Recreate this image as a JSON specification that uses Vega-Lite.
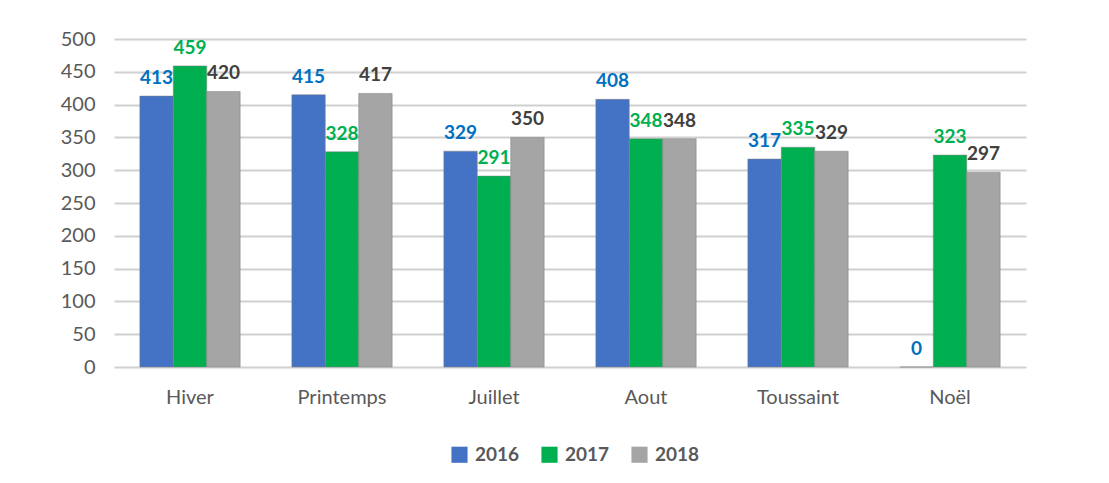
{
  "$schema": "https://vega.github.io/schema/vega-lite/v6.json",
  "autosize": {"type": "none"},
  "width": 912,
  "height": 328,
  "padding": {"left": 114, "top": 39, "right": 83, "bottom": 116},
  "background": "white",
  "data": {
    "values": [
      {"periode": "Hiver", "annee": "2016", "valeur": 413},
      {"periode": "Hiver", "annee": "2017", "valeur": 459},
      {"periode": "Hiver", "annee": "2018", "valeur": 420},
      {"periode": "Printemps", "annee": "2016", "valeur": 415},
      {"periode": "Printemps", "annee": "2017", "valeur": 328},
      {"periode": "Printemps", "annee": "2018", "valeur": 417},
      {"periode": "Juillet", "annee": "2016", "valeur": 329},
      {"periode": "Juillet", "annee": "2017", "valeur": 291},
      {"periode": "Juillet", "annee": "2018", "valeur": 350},
      {"periode": "Aout", "annee": "2016", "valeur": 408},
      {"periode": "Aout", "annee": "2017", "valeur": 348},
      {"periode": "Aout", "annee": "2018", "valeur": 348},
      {"periode": "Toussaint", "annee": "2016", "valeur": 317},
      {"periode": "Toussaint", "annee": "2017", "valeur": 335},
      {"periode": "Toussaint", "annee": "2018", "valeur": 329},
      {"periode": "Noël", "annee": "2016", "valeur": 0},
      {"periode": "Noël", "annee": "2017", "valeur": 323},
      {"periode": "Noël", "annee": "2018", "valeur": 297}
    ]
  },
  "encoding": {
    "x": {
      "field": "periode",
      "type": "nominal",
      "sort": null,
      "scale": {"paddingInner": 0.34, "paddingOuter": 0.17},
      "axis": {
        "title": null,
        "labelAngle": 0,
        "domain": false,
        "ticks": false,
        "labelPadding": 20,
        "labelFontSize": 20,
        "labelColor": "#595959",
        "labelFont": "Lato"
      }
    },
    "xOffset": {"field": "annee", "type": "nominal", "sort": ["2016", "2017", "2018"]},
    "y": {
      "field": "valeur",
      "type": "quantitative",
      "scale": {"domain": [0, 500]},
      "axis": {
        "title": null,
        "values": [0, 50, 100, 150, 200, 250, 300, 350, 400, 450, 500],
        "domain": false,
        "ticks": false,
        "labelPadding": 19,
        "labelFontSize": 20,
        "labelColor": "#595959",
        "labelFont": "Lato",
        "gridColor": "#d0d0d0",
        "gridWidth": 2
      }
    }
  },
  "layer": [
    {
      "mark": {"type": "bar", "stroke": "#7f7f7f", "strokeWidth": 0.5},
      "encoding": {
        "color": {
          "field": "annee",
          "type": "nominal",
          "scale": {"domain": ["2016", "2017", "2018"], "range": ["#4472C4", "#00B050", "#A5A5A5"]},
          "legend": {
            "title": null,
            "orient": "none",
            "legendX": 336,
            "legendY": 406,
            "direction": "horizontal",
            "symbolType": "square",
            "symbolSize": 260,
            "symbolStrokeWidth": 0,
            "labelFontSize": 19,
            "labelFontWeight": "bold",
            "labelColor": "#595959",
            "labelFont": "Lato",
            "labelOffset": 6,
            "columnPadding": 20
          }
        }
      }
    },
    {
      "mark": {"type": "text", "dy": -18, "fontSize": 19, "fontWeight": "bold", "font": "Lato"},
      "encoding": {
        "text": {"field": "valeur", "type": "quantitative"},
        "color": {
          "field": "annee",
          "type": "nominal",
          "scale": {"domain": ["2016", "2017", "2018"], "range": ["#0070C0", "#00B050", "#404040"]},
          "legend": null
        }
      }
    }
  ],
  "resolve": {"scale": {"color": "independent"}},
  "config": {"view": {"stroke": null}}
}
